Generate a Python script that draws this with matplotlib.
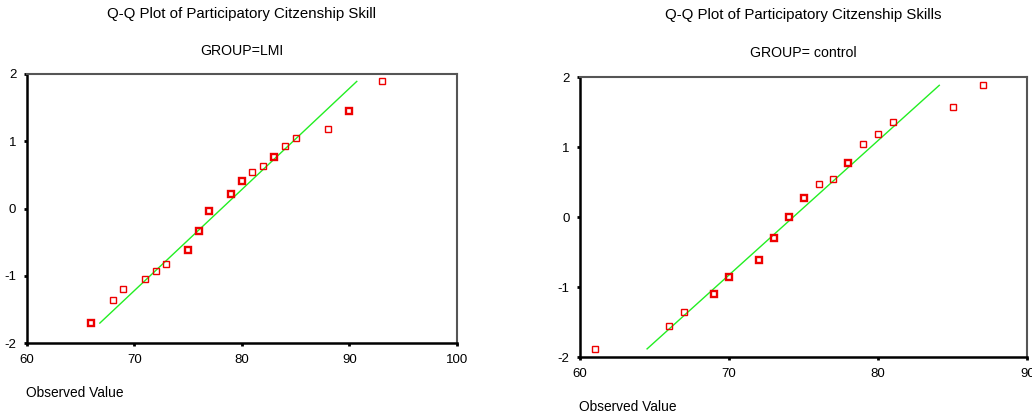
import numpy as np
import matplotlib.pyplot as plt

# LMI group: observed value vs expected normal value
lmi_obs = [66, 68, 69, 71, 72, 73, 75, 76, 77, 79, 80, 81, 82, 83, 84, 85, 88, 90, 93]
lmi_exp = [-1.70, -1.35, -1.19, -1.04, -0.93, -0.82, -0.62, -0.33, -0.04, 0.22,
           0.41, 0.54, 0.63, 0.77, 0.93, 1.05, 1.19, 1.45, 1.89]
lmi_cnt = [2, 1, 1, 1, 1, 1, 2, 2, 2, 2, 2, 1, 1, 2, 1, 1, 1, 2, 1]
lmi_line_x = [66.8, 90.7]
lmi_line_y = [-1.70, 1.89]

# control group
ctl_obs = [61, 66, 67, 69, 70, 72, 73, 74, 75, 76, 77, 78, 79, 80, 81, 85, 87]
ctl_exp = [-1.88, -1.55, -1.35, -1.10, -0.86, -0.61, -0.29, 0.0, 0.27, 0.47,
           0.55, 0.78, 1.05, 1.19, 1.36, 1.57, 1.89]
ctl_cnt = [1, 1, 1, 2, 2, 2, 2, 2, 2, 1, 1, 2, 1, 1, 1, 1, 1]
ctl_line_x = [64.5, 84.1]
ctl_line_y = [-1.88, 1.885]

plt.rcParams['font.family'] = ['Liberation Sans', 'DejaVu Sans']
plt.rcParams['axes.unicode_minus'] = False

fig = plt.figure(figsize=(10.32, 4.19), dpi=100)


def qq_panel(rect, obs, exp, cnt, lx, ly, xlim, xticks, title, sub, title_y, sub_y, xlab_y):
    ax = fig.add_axes(rect)
    ax.plot(lx, ly, color='#22ee22', lw=1.0, zorder=2)
    for x, y, c in zip(obs, exp, cnt):
        ax.plot(x, y, 's', ms=4.6, mfc='none', mec='#ee0000',
                mew=1.0 if c == 1 else 1.7, zorder=3)
    ax.set_xlim(*xlim)
    ax.set_ylim(-2, 2)
    ax.set_xticks(xticks)
    ax.set_yticks([-2, -1, 0, 1, 2])
    ax.tick_params(direction='out', length=2.5, width=2, labelsize=9.5, pad=5,
                   color='black')
    for s in ['left', 'bottom']:
        ax.spines[s].set_linewidth(1.8)
        ax.spines[s].set_color('black')
    for s in ['top', 'right']:
        ax.spines[s].set_linewidth(1.5)
        ax.spines[s].set_color('#555555')
    x0, _, w, _ = rect
    cx = x0 + w / 2
    fig.text(cx, title_y, title, ha='center', va='center', fontsize=10.8)
    fig.text(cx, sub_y, sub, ha='center', va='center', fontsize=10.2)
    fig.text(x0 - 0.001, xlab_y, 'Observed Value', ha='left', va='center', fontsize=9.9)
    return ax


qq_panel([0.0259, 0.1807, 0.4167, 0.6427], lmi_obs, lmi_exp, lmi_cnt,
         lmi_line_x, lmi_line_y, (60, 100), [60, 70, 80, 90, 100],
         'Q-Q Plot of Participatory Citzenship Skill', 'GROUP=LMI',
         1 - 14 / 419, 1 - 51 / 419, 1 - 393 / 419)

qq_panel([0.5620, 0.1473, 0.4334, 0.6683], ctl_obs, ctl_exp, ctl_cnt,
         ctl_line_x, ctl_line_y, (60, 90), [60, 70, 80, 90],
         'Q-Q Plot of Participatory Citzenship Skills', 'GROUP= control',
         1 - 15 / 419, 1 - 53 / 419, 1 - 407 / 419)

fig.savefig('out.png', dpi=100)
